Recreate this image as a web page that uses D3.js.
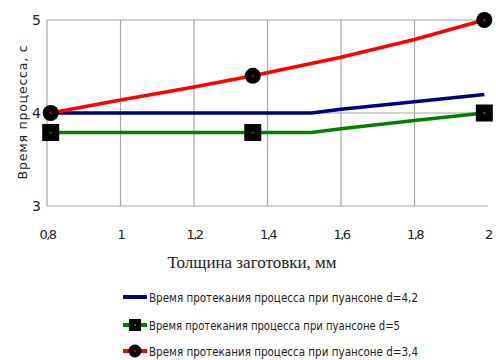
<!DOCTYPE html>
<html>
<head>
<meta charset="utf-8">
<script src="https://cdn.jsdelivr.net/npm/d3@7"></script>
<style>
  html, body { margin: 0; padding: 0; background: #fff; }
  svg { display: block; }
</style>
</head>
<body>
<svg id="chart" width="496" height="360"></svg>
<script>
// Process time vs. blank thickness for three punch diameters
const xTicks = [0.8, 1.0, 1.2, 1.4, 1.6, 1.8, 2.0];
const xTickLabels = ["0,8", "1", "1,2", "1,4", "1,6", "1,8", "2"];
const yTicks = [3, 4, 5];

// d = 4,2 (no markers)
const thickD42 = [0.8, 1.0, 1.2, 1.4, 1.52, 1.6, 1.8, 1.99];
const timeD42  = [4.0, 4.0, 4.0, 4.0, 4.0, 4.04, 4.12, 4.2];
// d = 5 (square markers)
const thickD5 = [0.81, 1.0, 1.2, 1.36, 1.52, 1.6, 1.8, 1.99];
const timeD5  = [3.79, 3.79, 3.79, 3.79, 3.79, 3.83, 3.92, 4.0];
const markD5  = [0.81, 1.36, 1.99];
const markD5v = [3.79, 3.79, 4.0];
// d = 3,4 (circle markers)
const thickD34 = [0.81, 1.0, 1.2, 1.36, 1.6, 1.8, 1.99];
const timeD34  = [4.0, 4.14, 4.28, 4.4, 4.6, 4.79, 5.0];
const markD34  = [0.81, 1.36, 1.99];
const markD34v = [4.0, 4.4, 5.0];

const seriesNames = [
  "Время протекания процесса при пуансоне d=4,2",
  "Время протекания процесса при пуансоне d=5",
  "Время протекания процесса при пуансоне d=3,4"
];
const colors = ["#000080", "#008000", "#ff0000"];

const svg = d3.select("#chart");
const x = d3.scaleLinear().domain([0.8, 2.0]).range([47, 488]);
const y = d3.scaleLinear().domain([3, 5]).range([206, 20]);

const grid = svg.append("g");
// vertical grid lines
grid.selectAll("line.v").data(xTicks.slice(0, -1)).enter().append("line")
  .attr("x1", d => x(d)).attr("x2", d => x(d))
  .attr("y1", y(5)).attr("y2", y(3))
  .attr("stroke", "#a6a6a6").attr("stroke-width", 1.2);
// horizontal grid lines
grid.selectAll("line.h").data(yTicks).enter().append("line")
  .attr("x1", x(0.8)).attr("x2", x(2.0))
  .attr("y1", d => y(d)).attr("y2", d => y(d))
  .attr("stroke", "#a6a6a6").attr("stroke-width", 1.2);

// Axis labels via d3 axes (domain/ticks hidden)
const yAxis = svg.append("g").attr("transform", `translate(${x(0.8)},0)`)
  .call(d3.axisLeft(y).tickValues(yTicks).tickSize(0).tickPadding(6).tickFormat(d3.format("d")));
yAxis.select(".domain").remove();
yAxis.selectAll("text").attr("font-family", "DejaVu Sans, sans-serif")
  .attr("font-size", 14).attr("fill", "#222");

const xAxis = svg.append("g").attr("transform", `translate(0,${y(3)})`)
  .call(d3.axisBottom(x).tickValues(xTicks).tickSize(0).tickPadding(24)
    .tickFormat((d, i) => xTickLabels[i]));
xAxis.select(".domain").remove();
xAxis.selectAll("text").attr("font-family", "DejaVu Sans, sans-serif")
  .attr("font-size", 13).attr("letter-spacing", -1.5).attr("fill", "#222");

// Axis titles
svg.append("text")
  .attr("transform", `translate(27,112) rotate(-90)`)
  .attr("text-anchor", "middle")
  .attr("font-family", "DejaVu Sans, sans-serif")
  .attr("font-size", 12.5).attr("letter-spacing", 0.8).attr("fill", "#222")
  .text("Время процесса, с");

svg.append("text")
  .attr("x", 252).attr("y", 268)
  .attr("text-anchor", "middle")
  .attr("font-family", "Liberation Serif, Times New Roman, serif")
  .attr("font-size", 17).attr("fill", "#222")
  .text("Толщина заготовки, мм");

// Series lines
const line = d3.line().x(d => x(d[0])).y(d => y(d[1]));
const lineData = [
  d3.zip(thickD42, timeD42),
  d3.zip(thickD5, timeD5),
  d3.zip(thickD34, timeD34)
];
lineData.forEach((pts, i) => {
  svg.append("path").datum(pts)
    .attr("d", line)
    .attr("fill", "none")
    .attr("stroke", colors[i])
    .attr("stroke-width", 3.5)
    .attr("stroke-linejoin", "round");
});

// Markers
function square(g, cx, cy, s, c) {
  g.append("rect").attr("x", cx - s / 2).attr("y", cy - s / 2)
    .attr("width", s).attr("height", s).attr("fill", "#000");
  g.append("rect").attr("x", cx - 1).attr("y", cy - 1)
    .attr("width", 2).attr("height", 2).attr("fill", c);
}
function circle(g, cx, cy, r, c) {
  g.append("circle").attr("cx", cx).attr("cy", cy).attr("r", r).attr("fill", "#000");
  g.append("circle").attr("cx", cx).attr("cy", cy).attr("r", 1).attr("fill", c);
}
const mk = svg.append("g");
d3.zip(markD5, markD5v).forEach(d => square(mk, x(d[0]), y(d[1]), 17, colors[1]));
d3.zip(markD34, markD34v).forEach(d => circle(mk, x(d[0]), y(d[1]), 8, colors[2]));

// Legend
const legendY = [297, 325, 351];
const widths = [269, 251, 269];
const lg = svg.append("g");
seriesNames.forEach((name, i) => {
  lg.append("line")
    .attr("x1", 123).attr("x2", 147)
    .attr("y1", legendY[i]).attr("y2", legendY[i])
    .attr("stroke", colors[i]).attr("stroke-width", 4);
  if (i === 1) square(lg, 135, legendY[i], 12, colors[1]);
  if (i === 2) circle(lg, 135, legendY[i], 6.5, colors[2]);
  lg.append("text")
    .attr("x", 149).attr("y", legendY[i] + 5)
    .attr("font-family", "DejaVu Sans, sans-serif")
    .attr("font-size", 13).attr("fill", "#222")
    .attr("textLength", widths[i]).attr("lengthAdjust", "spacingAndGlyphs")
    .text(name);
});
</script>
</body>
</html>
